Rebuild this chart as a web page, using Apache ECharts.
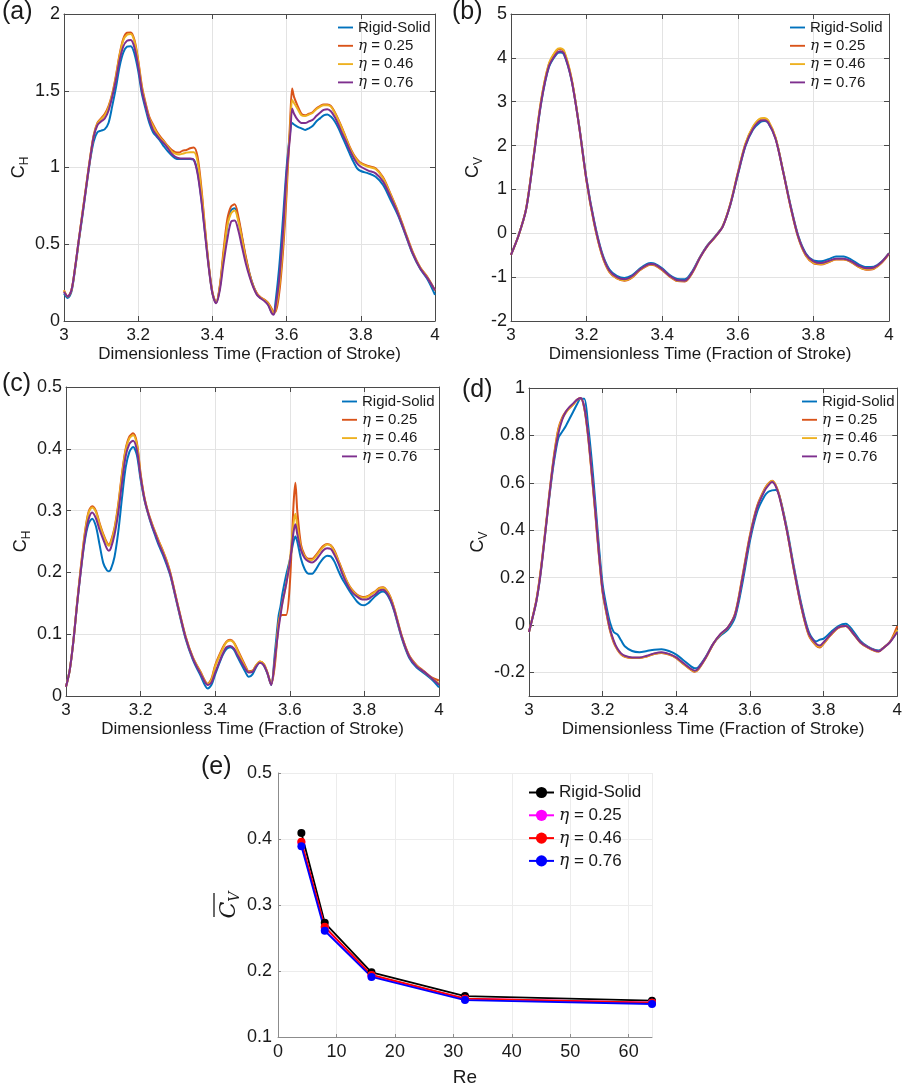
<!DOCTYPE html>
<html>
<head>
<meta charset="utf-8">
<script src="https://cdn.jsdelivr.net/npm/echarts@6/dist/echarts.min.js"></script>
<style>
html,body{margin:0;padding:0;background:#fff;}
#chart{width:905px;height:1088px;}
</style>
</head>
<body>
<div id="chart"></div>
<script>
// ---------------- DATA ----------------
const seriesLabels = ['Rigid-Solid', 'η = 0.25', 'η = 0.46', 'η = 0.76'];
const xTitle = 'Dimensionless Time (Fraction of Stroke)';

// Panel (a): C_H
const tA = [3.00,3.01,3.02,3.03,3.04,3.05,3.06,3.07,3.08,3.09,
3.10,3.11,3.12,3.13,3.14,3.15,3.16,3.17,3.18,3.19,
3.20,3.21,3.22,3.23,3.24,3.25,3.26,3.27,3.28,3.29,
3.30,3.31,3.32,3.33,3.34,3.35,3.36,3.37,3.38,3.39,
3.40,3.41,3.42,3.43,3.44,3.45,3.46,3.47,3.48,3.49,
3.50,3.51,3.52,3.53,3.54,3.55,3.56,3.565,3.57,3.58,
3.59,3.60,3.61,3.615,3.62,3.63,3.64,3.65,3.66,3.67,
3.68,3.69,3.70,3.71,3.72,3.73,3.74,3.75,3.76,3.77,
3.78,3.79,3.80,3.82,3.84,3.86,3.88,3.90,3.92,3.94,
3.96,3.98,4.00];
const aRigid = [0.18,0.15,0.19,0.34,0.52,0.69,0.87,1.04,1.17,1.23,
1.24,1.25,1.29,1.40,1.52,1.66,1.75,1.787,1.79,1.74,
1.63,1.48,1.38,1.29,1.23,1.20,1.17,1.135,1.105,1.08,
1.06,1.055,1.055,1.055,1.055,1.05,0.97,0.80,0.58,0.36,
0.18,0.12,0.22,0.43,0.62,0.72,0.735,0.66,0.54,0.41,
0.31,0.23,0.175,0.15,0.135,0.11,0.055,0.045,0.12,0.35,
0.66,1.00,1.24,1.29,1.28,1.265,1.255,1.245,1.255,1.27,
1.30,1.32,1.34,1.346,1.33,1.30,1.255,1.20,1.146,1.09,
1.038,0.995,0.977,0.962,0.94,0.886,0.79,0.69,0.565,0.435,
0.34,0.27,0.17];
const aEta025 = [0.20,0.16,0.20,0.35,0.53,0.71,0.885,1.06,1.21,1.29,
1.32,1.35,1.40,1.48,1.60,1.74,1.84,1.878,1.88,1.83,
1.70,1.53,1.42,1.33,1.28,1.235,1.20,1.17,1.14,1.115,
1.10,1.097,1.11,1.114,1.125,1.13,1.07,0.875,0.61,0.37,
0.19,0.12,0.23,0.46,0.66,0.745,0.76,0.68,0.55,0.42,
0.31,0.23,0.18,0.155,0.14,0.12,0.08,0.06,0.06,0.18,
0.44,0.83,1.33,1.515,1.46,1.40,1.35,1.34,1.35,1.36,
1.385,1.40,1.41,1.41,1.40,1.36,1.31,1.255,1.195,1.135,
1.088,1.053,1.03,1.01,0.995,0.936,0.83,0.715,0.58,0.45,
0.35,0.285,0.20];
const aEta046 = [0.20,0.16,0.20,0.35,0.53,0.71,0.88,1.055,1.205,1.285,
1.315,1.34,1.39,1.475,1.59,1.73,1.83,1.865,1.87,1.82,
1.69,1.52,1.41,1.32,1.27,1.225,1.19,1.165,1.135,1.105,
1.09,1.085,1.09,1.097,1.10,1.10,1.04,0.85,0.60,0.36,
0.185,0.12,0.22,0.43,0.62,0.70,0.72,0.65,0.53,0.40,
0.30,0.225,0.175,0.152,0.137,0.115,0.07,0.05,0.07,0.22,
0.50,0.90,1.28,1.44,1.42,1.38,1.34,1.335,1.345,1.355,
1.38,1.395,1.405,1.405,1.395,1.355,1.305,1.25,1.19,1.13,
1.082,1.047,1.025,1.005,0.99,0.93,0.825,0.71,0.575,0.445,
0.348,0.282,0.20];
const aEta076 = [0.19,0.16,0.20,0.35,0.53,0.70,0.875,1.05,1.20,1.275,
1.30,1.32,1.37,1.46,1.57,1.70,1.79,1.826,1.83,1.78,
1.66,1.50,1.40,1.31,1.245,1.21,1.18,1.155,1.125,1.09,
1.07,1.06,1.058,1.058,1.058,1.05,0.96,0.79,0.57,0.35,
0.18,0.115,0.20,0.375,0.53,0.645,0.655,0.59,0.48,0.375,
0.29,0.22,0.17,0.148,0.13,0.104,0.05,0.04,0.09,0.27,
0.57,0.96,1.22,1.385,1.35,1.31,1.29,1.29,1.30,1.31,
1.335,1.357,1.375,1.38,1.365,1.327,1.277,1.22,1.17,1.114,
1.066,1.027,1.005,0.98,0.962,0.908,0.81,0.70,0.57,0.44,
0.343,0.278,0.20];

// Panel (b): C_V
const tB = [3.00,3.02,3.04,3.06,3.08,3.10,3.12,3.13,3.14,3.16,
3.18,3.20,3.22,3.24,3.26,3.28,3.30,3.32,3.34,3.36,
3.37,3.38,3.40,3.42,3.44,3.46,3.48,3.50,3.52,3.54,
3.56,3.58,3.60,3.62,3.64,3.66,3.67,3.68,3.70,3.72,
3.74,3.76,3.78,3.80,3.82,3.84,3.86,3.88,3.90,3.92,
3.94,3.96,3.98,4.00];
const bRigid = [-0.49,-0.05,0.55,1.74,2.98,3.78,4.08,4.12,4.08,3.50,
2.47,1.23,0.28,-0.42,-0.82,-0.97,-1.02,-0.96,-0.81,-0.70,
-0.68,-0.69,-0.80,-0.95,-1.04,-1.05,-0.86,-0.54,-0.27,-0.07,
0.16,0.64,1.33,1.98,2.36,2.54,2.56,2.52,2.16,1.42,
0.62,-0.06,-0.46,-0.62,-0.64,-0.59,-0.53,-0.53,-0.60,-0.71,
-0.77,-0.76,-0.65,-0.45];
const bEta025 = [-0.49,-0.05,0.56,1.77,3.04,3.85,4.16,4.20,4.15,3.53,
2.45,1.18,0.22,-0.48,-0.88,-1.03,-1.08,-1.01,-0.85,-0.74,
-0.72,-0.73,-0.84,-0.99,-1.09,-1.10,-0.90,-0.56,-0.29,-0.09,
0.15,0.66,1.37,2.03,2.42,2.61,2.62,2.57,2.17,1.40,
0.58,-0.10,-0.51,-0.68,-0.71,-0.66,-0.60,-0.60,-0.66,-0.77,
-0.83,-0.81,-0.68,-0.47];
const bEta046 = [-0.49,-0.05,0.56,1.78,3.05,3.86,4.18,4.22,4.17,3.54,
2.46,1.19,0.23,-0.47,-0.87,-1.02,-1.07,-1.00,-0.84,-0.73,
-0.71,-0.72,-0.83,-0.98,-1.08,-1.09,-0.89,-0.55,-0.28,-0.08,
0.16,0.67,1.38,2.04,2.43,2.62,2.63,2.58,2.18,1.41,
0.59,-0.09,-0.50,-0.67,-0.70,-0.65,-0.59,-0.59,-0.65,-0.76,
-0.82,-0.80,-0.67,-0.46];
const bEta076 = [-0.49,-0.05,0.55,1.75,3.00,3.80,4.10,4.15,4.10,3.50,
2.45,1.20,0.25,-0.45,-0.85,-1.00,-1.05,-0.98,-0.83,-0.72,
-0.70,-0.71,-0.82,-0.97,-1.07,-1.08,-0.88,-0.55,-0.28,-0.08,
0.15,0.65,1.35,2.00,2.38,2.57,2.58,2.53,2.15,1.40,
0.60,-0.08,-0.48,-0.64,-0.68,-0.63,-0.58,-0.58,-0.64,-0.74,
-0.80,-0.78,-0.66,-0.46];

// Panel (c): C_H
const tC = [3.00,3.01,3.02,3.03,3.04,3.05,3.06,3.07,3.08,3.09,
3.10,3.11,3.115,3.12,3.13,3.14,3.15,3.16,3.17,3.18,
3.19,3.20,3.21,3.22,3.23,3.24,3.25,3.26,3.27,3.28,
3.30,3.32,3.34,3.36,3.38,3.39,3.40,3.42,3.43,3.44,
3.45,3.46,3.48,3.49,3.50,3.51,3.52,3.53,3.54,3.55,
3.56,3.57,3.575,3.58,3.59,3.60,3.61,3.615,3.62,3.63,
3.64,3.65,3.66,3.67,3.68,3.69,3.70,3.71,3.72,3.73,
3.74,3.75,3.76,3.77,3.78,3.79,3.80,3.81,3.82,3.83,
3.84,3.85,3.86,3.87,3.88,3.90,3.92,3.94,3.96,3.98,
4.00];
const cRigid = [0.015,0.042,0.09,0.15,0.204,0.25,0.278,0.287,0.275,0.245,
0.215,0.203,0.202,0.205,0.225,0.265,0.32,0.37,0.395,0.403,
0.39,0.35,0.318,0.295,0.275,0.258,0.242,0.228,0.212,0.194,
0.143,0.094,0.059,0.034,0.012,0.018,0.035,0.066,0.076,0.079,
0.075,0.063,0.04,0.031,0.035,0.047,0.055,0.05,0.036,0.018,
0.07,0.13,0.145,0.165,0.195,0.22,0.25,0.258,0.25,0.222,
0.205,0.198,0.198,0.205,0.215,0.223,0.227,0.226,0.217,0.203,
0.19,0.18,0.17,0.161,0.153,0.148,0.147,0.15,0.156,0.162,
0.167,0.169,0.165,0.154,0.137,0.094,0.062,0.046,0.037,0.027,
0.014];
const cEta025 = [0.015,0.042,0.09,0.152,0.21,0.262,0.297,0.307,0.30,0.28,
0.262,0.248,0.245,0.25,0.272,0.31,0.36,0.40,0.42,0.425,
0.41,0.36,0.322,0.298,0.28,0.264,0.249,0.235,0.219,0.199,
0.147,0.098,0.063,0.04,0.02,0.028,0.05,0.078,0.088,0.091,
0.087,0.075,0.05,0.04,0.041,0.05,0.056,0.052,0.038,0.019,
0.05,0.12,0.13,0.131,0.131,0.18,0.31,0.345,0.30,0.245,
0.228,0.222,0.222,0.228,0.236,0.243,0.246,0.244,0.235,0.22,
0.205,0.19,0.178,0.17,0.164,0.161,0.16,0.162,0.166,0.17,
0.175,0.176,0.171,0.16,0.142,0.098,0.066,0.05,0.04,0.03,
0.025];
const cEta046 = [0.015,0.042,0.09,0.152,0.208,0.26,0.295,0.305,0.298,0.278,
0.26,0.246,0.243,0.248,0.27,0.307,0.357,0.398,0.417,0.422,
0.407,0.358,0.321,0.297,0.279,0.263,0.248,0.234,0.218,0.198,
0.146,0.097,0.062,0.039,0.019,0.026,0.048,0.076,0.087,0.09,
0.086,0.073,0.048,0.039,0.04,0.05,0.056,0.052,0.038,0.019,
0.06,0.115,0.135,0.15,0.18,0.22,0.28,0.295,0.275,0.24,
0.226,0.22,0.22,0.226,0.234,0.241,0.245,0.243,0.233,0.219,
0.203,0.189,0.177,0.169,0.163,0.16,0.159,0.161,0.165,0.169,
0.174,0.175,0.17,0.159,0.141,0.097,0.065,0.049,0.039,0.029,
0.02];
const cEta076 = [0.015,0.042,0.09,0.15,0.204,0.253,0.285,0.297,0.288,0.269,
0.253,0.238,0.235,0.239,0.261,0.296,0.344,0.388,0.408,0.413,
0.398,0.355,0.32,0.296,0.277,0.261,0.245,0.231,0.215,0.196,
0.145,0.096,0.061,0.037,0.018,0.022,0.038,0.068,0.079,0.081,
0.077,0.066,0.045,0.038,0.039,0.048,0.054,0.05,0.037,0.018,
0.06,0.11,0.13,0.15,0.18,0.215,0.265,0.278,0.262,0.236,
0.223,0.218,0.216,0.22,0.228,0.236,0.239,0.238,0.228,0.215,
0.199,0.185,0.174,0.166,0.161,0.157,0.156,0.157,0.161,0.165,
0.171,0.172,0.167,0.156,0.139,0.096,0.064,0.048,0.039,0.029,
0.018];

// Panel (d): C_V
const tD = [3.00,3.01,3.02,3.03,3.04,3.05,3.06,3.07,3.08,3.09,
3.10,3.11,3.12,3.13,3.14,3.15,3.16,3.17,3.18,3.19,
3.20,3.21,3.22,3.23,3.24,3.25,3.26,3.28,3.30,3.32,
3.34,3.36,3.38,3.40,3.42,3.44,3.45,3.46,3.48,3.50,
3.52,3.54,3.56,3.58,3.60,3.62,3.64,3.65,3.66,3.67,
3.68,3.70,3.72,3.74,3.76,3.78,3.79,3.80,3.82,3.84,
3.86,3.88,3.90,3.92,3.94,3.95,3.96,3.98,4.00];
const dRigid = [-0.03,0.032,0.10,0.20,0.33,0.47,0.60,0.71,0.79,0.815,
0.84,0.87,0.90,0.93,0.955,0.955,0.85,0.70,0.52,0.33,
0.17,0.08,0.01,-0.03,-0.04,-0.065,-0.09,-0.11,-0.115,-0.11,
-0.105,-0.103,-0.11,-0.125,-0.15,-0.175,-0.183,-0.178,-0.135,-0.08,
-0.045,-0.02,0.035,0.18,0.355,0.48,0.545,0.562,0.568,0.57,
0.545,0.41,0.24,0.085,-0.03,-0.07,-0.062,-0.058,-0.03,-0.005,
0.005,-0.025,-0.068,-0.092,-0.106,-0.108,-0.1,-0.073,-0.025];
const dEta025 = [-0.03,0.035,0.105,0.21,0.34,0.48,0.62,0.74,0.83,0.875,
0.90,0.915,0.93,0.95,0.958,0.915,0.80,0.64,0.47,0.29,
0.135,0.05,-0.025,-0.075,-0.105,-0.125,-0.135,-0.14,-0.14,-0.133,
-0.123,-0.118,-0.125,-0.14,-0.166,-0.19,-0.198,-0.188,-0.14,-0.082,
-0.04,-0.012,0.05,0.21,0.38,0.505,0.575,0.597,0.608,0.59,
0.545,0.40,0.225,0.07,-0.045,-0.088,-0.095,-0.08,-0.042,-0.012,
-0.005,-0.037,-0.075,-0.096,-0.11,-0.112,-0.1,-0.072,-0.005];
const dEta046 = [-0.03,0.034,0.103,0.205,0.335,0.475,0.615,0.735,0.825,0.87,
0.895,0.915,0.93,0.948,0.957,0.918,0.805,0.645,0.475,0.295,
0.14,0.055,-0.02,-0.07,-0.103,-0.123,-0.133,-0.139,-0.139,-0.132,
-0.122,-0.117,-0.124,-0.139,-0.165,-0.189,-0.196,-0.186,-0.139,-0.081,
-0.04,-0.011,0.048,0.205,0.375,0.5,0.572,0.595,0.607,0.588,
0.543,0.4,0.228,0.072,-0.042,-0.085,-0.092,-0.078,-0.04,-0.011,
-0.005,-0.036,-0.074,-0.095,-0.109,-0.111,-0.1,-0.072,-0.02];
const dEta076 = [-0.03,0.032,0.10,0.20,0.33,0.47,0.61,0.725,0.81,0.865,
0.90,0.92,0.935,0.95,0.958,0.92,0.81,0.652,0.483,0.30,
0.145,0.06,-0.017,-0.066,-0.10,-0.12,-0.13,-0.137,-0.137,-0.13,
-0.12,-0.115,-0.122,-0.137,-0.162,-0.186,-0.193,-0.183,-0.137,-0.08,
-0.038,-0.01,0.046,0.20,0.37,0.497,0.567,0.589,0.603,0.585,
0.54,0.40,0.23,0.075,-0.038,-0.08,-0.087,-0.073,-0.038,-0.01,
-0.005,-0.035,-0.073,-0.094,-0.108,-0.111,-0.10,-0.073,-0.03];

// Panel (e): mean C_V vs Re
const reValues = [4, 8, 16, 32, 64];
const eRigid  = [0.409, 0.273, 0.198, 0.162, 0.155];
const eEta025 = [0.395, 0.266, 0.193, 0.158, 0.152];
const eEta046 = [0.396, 0.267, 0.194, 0.158, 0.152];
const eEta076 = [0.389, 0.261, 0.191, 0.156, 0.150];

// ---------------- STYLE / LAYOUT ----------------
const FONT = '"Liberation Sans", Arial, Helvetica, sans-serif';
const SERIF = '"DejaVu Serif", "Liberation Serif", serif';
const TEXT = '#1a1a1a';
const AXIS = '#4a4a4a';
const GRIDC = '#e3e3e3';
const lineColors = ['#0072BD', '#D95319', '#EDB120', '#7E2F8E'];
const reColors = ['#000000', '#FF00FF', '#FF0000', '#0000FF'];
const LINE_ICON = 'path://M0,0 L16,0 L16,2 L0,2 Z';

const panels = [
  { id: 'a', t: tA, ys: [aRigid, aEta025, aEta046, aEta076], sub: 'H',
    grid: { left: 64, top: 14, width: 371, height: 307 },
    y: { min: 0, max: 2, interval: 0.5 }, yGap: 27, xGap: 25,
    legend: { left: 338, top: 20 }, title: { left: 2, top: 0 } },
  { id: 'b', t: tB, ys: [bRigid, bEta025, bEta046, bEta076], sub: 'V',
    grid: { left: 511, top: 14, width: 378, height: 307 },
    y: { min: -2, max: 5, interval: 1 }, yGap: 26, xGap: 25,
    legend: { left: 790, top: 20 }, title: { left: 452, top: 0 } },
  { id: 'c', t: tC, ys: [cRigid, cEta025, cEta046, cEta076], sub: 'H',
    grid: { left: 66, top: 387, width: 373, height: 309 },
    y: { min: 0, max: 0.5, interval: 0.1 }, yGap: 31, xGap: 25,
    legend: { left: 342, top: 394 }, title: { left: 2, top: 372 } },
  { id: 'd', t: tD, ys: [dRigid, dEta025, dEta046, dEta076], sub: 'V',
    grid: { left: 529, top: 388, width: 369, height: 308 },
    y: { min: -0.3, max: 1, splitNumber: 7 }, yGap: 34, xGap: 25,
    legend: { left: 802, top: 394 }, title: { left: 462, top: 378 } }
];

function legendFormatter(name) {
  const label = name.split(':')[1];
  if (label.charAt(0) === 'η') return '{e|η}' + label.slice(1);
  return label;
}

const grids = [], xAxes = [], yAxes = [], series = [], legends = [], titles = [];

panels.forEach(function (p, i) {
  grids.push(Object.assign({ containLabel: false }, p.grid));
  const common = { type: 'value', gridIndex: i };
  xAxes.push(Object.assign({}, common, {
    min: 3, max: 4, interval: 0.2, position: 'bottom',
    name: xTitle, nameLocation: 'middle', nameGap: p.xGap,
    nameTextStyle: { fontSize: 17, color: TEXT, fontFamily: FONT },
    axisLine: { show: true, onZero: false, lineStyle: { color: AXIS, width: 1 } },
    axisTick: { show: true, inside: true, length: 5, lineStyle: { color: AXIS } },
    axisLabel: { fontSize: 17, color: TEXT, fontFamily: FONT, margin: 6 },
    splitLine: { show: true, lineStyle: { color: GRIDC, width: 1 } }
  }));
  xAxes.push(Object.assign({}, common, {
    min: 3, max: 4, interval: 0.2, position: 'top',
    axisLine: { show: true, onZero: false, lineStyle: { color: AXIS, width: 1 } },
    axisTick: { show: true, inside: true, length: 5, lineStyle: { color: AXIS } },
    axisLabel: { show: false }, splitLine: { show: false }
  }));
  yAxes.push(Object.assign({}, common, p.y, {
    position: 'left',
    name: '{c|C}{s|' + p.sub + '}', nameLocation: 'middle', nameRotate: 90, nameGap: p.yGap,
    nameTextStyle: { rich: {
      c: { fontSize: 18, color: TEXT, fontFamily: FONT },
      s: { fontSize: 12, color: TEXT, fontFamily: FONT, padding: [12, 0, 0, 0] } } },
    axisLine: { show: true, onZero: false, lineStyle: { color: AXIS, width: 1 } },
    axisTick: { show: true, inside: true, length: 5, lineStyle: { color: AXIS } },
    axisLabel: { fontSize: 18, color: TEXT, fontFamily: FONT, margin: 4, showMinLabel: p.id !== 'd' },
    splitLine: { show: true, lineStyle: { color: GRIDC, width: 1 } }
  }));
  yAxes.push(Object.assign({}, common, p.y, {
    position: 'right',
    axisLine: { show: true, onZero: false, lineStyle: { color: AXIS, width: 1 } },
    axisTick: { show: true, inside: true, length: 5, lineStyle: { color: AXIS } },
    axisLabel: { show: false }, splitLine: { show: false }
  }));
  const names = [];
  p.ys.forEach(function (vals, k) {
    const nm = p.id + ':' + seriesLabels[k];
    names.push(nm);
    series.push({
      type: 'line', name: nm, xAxisIndex: 2 * i, yAxisIndex: 2 * i,
      data: p.t.map(function (x, j) { return [x, vals[j]]; }),
      symbol: 'none', smooth: 0.3, clip: true,
      lineStyle: { color: lineColors[k], width: 2 }, itemStyle: { color: lineColors[k] },
      emphasis: { disabled: true }
    });
  });
  legends.push({
    orient: 'vertical', left: p.legend.left, top: p.legend.top, padding: 0,
    itemWidth: 15, itemHeight: 14, itemGap: 3.3, selectedMode: false,
    icon: LINE_ICON,
    data: names, formatter: legendFormatter,
    textStyle: { fontSize: 15, color: TEXT, fontFamily: FONT,
      rich: { e: { fontSize: 15, fontStyle: 'italic', fontFamily: SERIF, color: TEXT } } }
  });
  titles.push({ text: '(' + p.id + ')', left: p.title.left, top: p.title.top, padding: 0,
    textStyle: { fontSize: 25, fontWeight: 'normal', color: TEXT, fontFamily: FONT } });
});

// Panel (e)
const ei = panels.length;
grids.push({ left: 278, top: 773, width: 374, height: 265 });
xAxes.push({
  type: 'value', gridIndex: ei, min: 0, max: 64, interval: 10,
  name: 'Re', nameLocation: 'middle', nameGap: 31,
  nameTextStyle: { fontSize: 19, color: TEXT, fontFamily: FONT },
  axisLine: { show: true, onZero: false, lineStyle: { color: '#8c8c8c' } },
  axisTick: { show: true, inside: true, length: 3, lineStyle: { color: '#8c8c8c' } },
  axisLabel: { fontSize: 18, color: TEXT, fontFamily: FONT, margin: 6, showMaxLabel: false },
  splitLine: { show: true, lineStyle: { color: '#ececec' } }
});
yAxes.push({
  type: 'value', gridIndex: ei, min: 0.1, max: 0.5, interval: 0.1,
  name: '{o| }\n{c|C}{s|V}', nameLocation: 'middle', nameRotate: 90, nameGap: 36,
  nameTextStyle: { rich: {
    o: { width: 24, height: 1.3, lineHeight: 4, fontSize: 2, backgroundColor: TEXT },
    c: { fontSize: 22, fontStyle: 'italic', fontFamily: SERIF, color: TEXT, lineHeight: 22 },
    s: { fontSize: 14, fontStyle: 'italic', fontFamily: SERIF, color: TEXT, padding: [12, 0, 0, 0] } } },
  axisLine: { show: true, onZero: false, lineStyle: { color: '#8c8c8c' } },
  axisTick: { show: true, inside: true, length: 3, lineStyle: { color: '#8c8c8c' } },
  axisLabel: { fontSize: 18, color: TEXT, fontFamily: FONT, margin: 6 },
  splitLine: { show: true, lineStyle: { color: '#ececec' } }
});
const eSets = [eRigid, eEta025, eEta046, eEta076];
const eNames = [];
eSets.forEach(function (vals, k) {
  const nm = 'e:' + seriesLabels[k];
  eNames.push(nm);
  series.push({
    type: 'line', name: nm, xAxisIndex: 2 * ei, yAxisIndex: 2 * ei,
    data: reValues.map(function (x, j) { return [x, vals[j]]; }),
    symbol: 'circle', symbolSize: 8, showSymbol: true,
    lineStyle: { color: reColors[k], width: 1.8 }, itemStyle: { color: reColors[k] },
    emphasis: { disabled: true }
  });
});
legends.push({
  orient: 'vertical', left: 528, top: 784, padding: 0,
  itemWidth: 25, itemHeight: 14, itemGap: 5.8, selectedMode: false,
  data: eNames, formatter: legendFormatter,
  textStyle: { fontSize: 17, color: TEXT, fontFamily: FONT,
    rich: { e: { fontSize: 17, fontStyle: 'italic', fontFamily: SERIF, color: TEXT } } }
});
titles.push({ text: '(e)', left: 201, top: 755, padding: 0,
  textStyle: { fontSize: 25, fontWeight: 'normal', color: TEXT, fontFamily: FONT } });

const chart = echarts.init(document.getElementById('chart'), null, { renderer: 'canvas' });
chart.setOption({
  backgroundColor: '#ffffff',
  animation: false,
  title: titles,
  legend: legends,
  grid: grids,
  xAxis: xAxes,
  yAxis: yAxes,
  series: series
});
</script>
</body>
</html>
